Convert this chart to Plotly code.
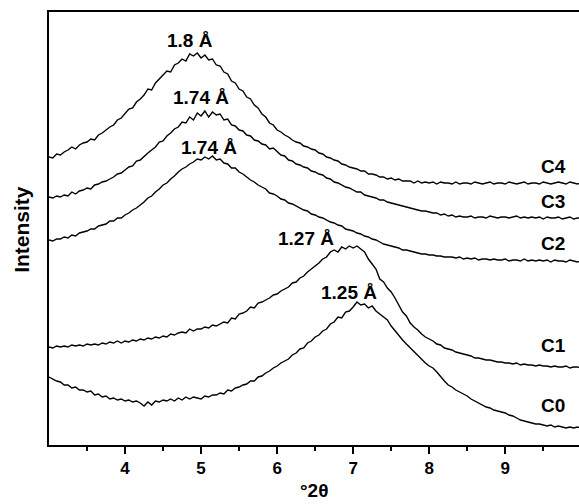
import plotly.graph_objects as go

# 2-theta sampling grid (degrees)
TT_START = 3.0
TT_STEP = 0.05
N_POINTS = 141
two_theta = [round(TT_START + TT_STEP * i, 2) for i in range(N_POINTS)]

# Intensities (arbitrary units, vertically offset stack)
C4 = [288, 287, 291, 290, 293, 295, 298, 296, 300, 302, 303, 306, 305, 310, 312, 315, 318, 320, 325, 327,
      331, 336, 337, 343, 346, 350, 356, 355, 362, 366, 369, 374, 373, 380, 382, 386, 384, 391, 389, 392,
      387, 390, 385, 386, 380, 379, 373, 371, 364, 362, 356, 354, 348, 346, 340, 337, 331, 328, 322, 320,
      315, 313, 310, 308, 305, 303, 302, 299, 298, 296, 295, 292, 291, 288, 287, 285, 284, 281, 280, 278,
      277, 276, 274, 274, 271, 271, 270, 268, 268, 266, 267, 265, 266, 264, 264, 264, 262, 264, 262, 263,
      262, 263, 261, 263, 262, 262, 261, 263, 261, 262, 262, 261, 263, 262, 261, 262, 263, 261, 262, 262,
      261, 263, 262, 261, 262, 263, 261, 262, 262, 261, 263, 262, 261, 262, 263, 262, 261, 263, 262, 261,
      262]
C3 = [248, 247, 249, 248, 250, 249, 253, 251, 254, 255, 257, 256, 260, 261, 263, 264, 266, 268, 271, 272,
      275, 278, 279, 284, 285, 289, 292, 295, 298, 303, 304, 309, 312, 316, 318, 323, 322, 328, 325, 332,
      329, 334, 328, 333, 330, 331, 325, 326, 320, 319, 315, 314, 310, 309, 305, 304, 301, 300, 296, 297,
      293, 290, 289, 285, 284, 281, 280, 278, 277, 274, 273, 271, 270, 267, 266, 263, 262, 260, 258, 257,
      255, 253, 253, 250, 249, 248, 247, 245, 245, 243, 242, 241, 240, 239, 238, 237, 236, 235, 234, 234,
      233, 232, 232, 230, 231, 229, 230, 228, 229, 228, 228, 229, 227, 228, 228, 227, 229, 228, 227, 228,
      228, 227, 228, 229, 227, 228, 227, 228, 227, 228, 226, 228, 227, 227, 228, 226, 227, 228, 226, 227,
      227]
C2 = [205, 204, 206, 206, 208, 207, 210, 209, 212, 213, 214, 216, 216, 219, 220, 221, 224, 224, 227, 227,
      230, 232, 235, 237, 240, 243, 247, 249, 253, 256, 260, 262, 266, 269, 273, 276, 278, 281, 283, 286,
      285, 288, 286, 289, 285, 286, 282, 281, 277, 277, 273, 271, 268, 265, 263, 260, 258, 256, 252, 251,
      249, 246, 245, 242, 241, 239, 237, 235, 234, 231, 230, 228, 227, 225, 223, 222, 220, 219, 216, 215,
      214, 212, 211, 209, 208, 206, 205, 203, 201, 200, 199, 198, 197, 195, 195, 194, 193, 192, 191, 191,
      190, 190, 189, 189, 188, 188, 188, 187, 188, 186, 187, 186, 187, 185, 186, 186, 185, 186, 185, 185,
      186, 184, 185, 185, 184, 186, 184, 185, 184, 185, 184, 185, 183, 185, 184, 184, 183, 185, 184, 183,
      184]
C1 = [98, 97, 99, 98, 99, 98, 100, 99, 100, 99, 101, 100, 101, 100, 102, 101, 103, 102, 104, 102,
      104, 103, 105, 104, 106, 105, 107, 106, 108, 107, 109, 108, 111, 110, 112, 113, 112, 116, 114, 116,
      116, 118, 117, 120, 119, 121, 123, 122, 127, 126, 131, 132, 134, 138, 137, 142, 143, 145, 147, 150,
      151, 154, 156, 158, 162, 163, 167, 169, 173, 176, 179, 182, 186, 188, 193, 195, 193, 198, 196, 199,
      197, 199, 196, 193, 186, 181, 176, 166, 163, 157, 153, 147, 140, 133, 129, 122, 118, 115, 111, 108,
      106, 104, 101, 100, 97, 96, 95, 93, 92, 91, 90, 89, 87, 87, 86, 85, 85, 84, 83, 83,
      82, 82, 81, 82, 80, 81, 80, 80, 79, 80, 79, 79, 78, 79, 78, 78, 79, 77, 78, 78,
      77]
C0 = [68, 66, 64, 63, 60, 60, 57, 58, 55, 55, 53, 54, 50, 51, 48, 49, 46, 47, 45, 46,
      44, 45, 43, 44, 42, 39, 43, 40, 44, 43, 45, 44, 46, 44, 47, 45, 48, 46, 48, 47,
      46, 49, 48, 50, 50, 52, 51, 55, 54, 57, 58, 60, 61, 64, 64, 68, 69, 72, 74, 77,
      79, 82, 84, 86, 90, 92, 96, 97, 102, 104, 108, 110, 114, 116, 121, 123, 128, 127, 133, 134,
      138, 143, 140, 141, 137, 139, 134, 131, 128, 125, 119, 114, 110, 105, 101, 97, 94, 89, 86, 82,
      79, 77, 73, 68, 64, 60, 58, 55, 53, 51, 49, 46, 44, 42, 40, 38, 37, 35, 34, 33,
      32, 30, 29, 27, 25, 24, 23, 22, 21, 21, 20, 19, 20, 18, 19, 18, 17, 18, 17, 18,
      17]

series = [("C0", C0), ("C1", C1), ("C2", C2), ("C3", C3), ("C4", C4)]

# Peak labels: (2theta, intensity, text)
peak_x = [4.86, 5.00, 5.11, 6.38, 6.95]
peak_y = [405, 348, 298, 207, 153]
peak_text = ["1.8 Å", "1.74 Å", "1.74 Å", "1.27 Å", "1.25 Å"]

# Curve name labels
name_x = [9.63, 9.63, 9.63, 9.63, 9.63]
name_y = [40, 100, 202, 244, 279]
name_text = ["C0", "C1", "C2", "C3", "C4"]

x_ticks = [4, 5, 6, 7, 8, 9]
x_minor = [3.5, 4.5, 5.5, 6.5, 7.5, 8.5, 9.5]

FONT = "Liberation Sans, Arial, sans-serif"

fig = go.Figure()
for name, vals in series:
    fig.add_trace(go.Scatter(x=two_theta, y=vals, mode="lines", name=name,
                             line=dict(color="black", width=1.4), showlegend=False))

annotations = []
for x, y, t in zip(peak_x, peak_y, peak_text):
    annotations.append(dict(x=x, y=y, xref="x", yref="y", text="<b>" + t + "</b>", showarrow=False,
                            font=dict(family=FONT, size=19, color="black"),
                            xanchor="center", yanchor="middle"))
for x, y, t in zip(name_x, name_y, name_text):
    annotations.append(dict(x=x, y=y, xref="x", yref="y", text="<b>" + t + "</b>", showarrow=False,
                            font=dict(family=FONT, size=19, color="black"),
                            xanchor="center", yanchor="middle"))
annotations.append(dict(x=-0.052, y=0.498, xref="paper", yref="paper", text="<b>Intensity</b>",
                        textangle=-90, showarrow=False, xanchor="center", yanchor="middle",
                        font=dict(family=FONT, size=21, color="black")))
annotations.append(dict(x=0.5, y=-0.134, xref="paper", yref="paper", text="<b>°2θ</b>",
                        showarrow=False, xanchor="center", yanchor="bottom",
                        font=dict(family=FONT, size=19, color="black")))

fig.update_layout(
    width=579, height=504,
    margin=dict(l=49, r=0, t=12, b=59),
    paper_bgcolor="white", plot_bgcolor="white",
    annotations=annotations,
    xaxis=dict(range=[3.0, 9.97], tickvals=x_ticks, ticktext=[f"<b>{v}</b>" for v in x_ticks],
               ticks="outside", ticklen=7, tickwidth=2, tickcolor="black",
               showline=True, linewidth=2, linecolor="black", mirror=True,
               showgrid=False, zeroline=False,
               tickfont=dict(family=FONT, size=17, color="black"),
               minor=dict(tickvals=x_minor, ticks="outside", ticklen=4, tickwidth=2,
                          tickcolor="black", showgrid=False)),
    yaxis=dict(range=[0, 433], showticklabels=False, ticks="", showline=True, linewidth=2,
               linecolor="black", mirror=False, showgrid=False, zeroline=False),
)

fig.write_html("out.html")
